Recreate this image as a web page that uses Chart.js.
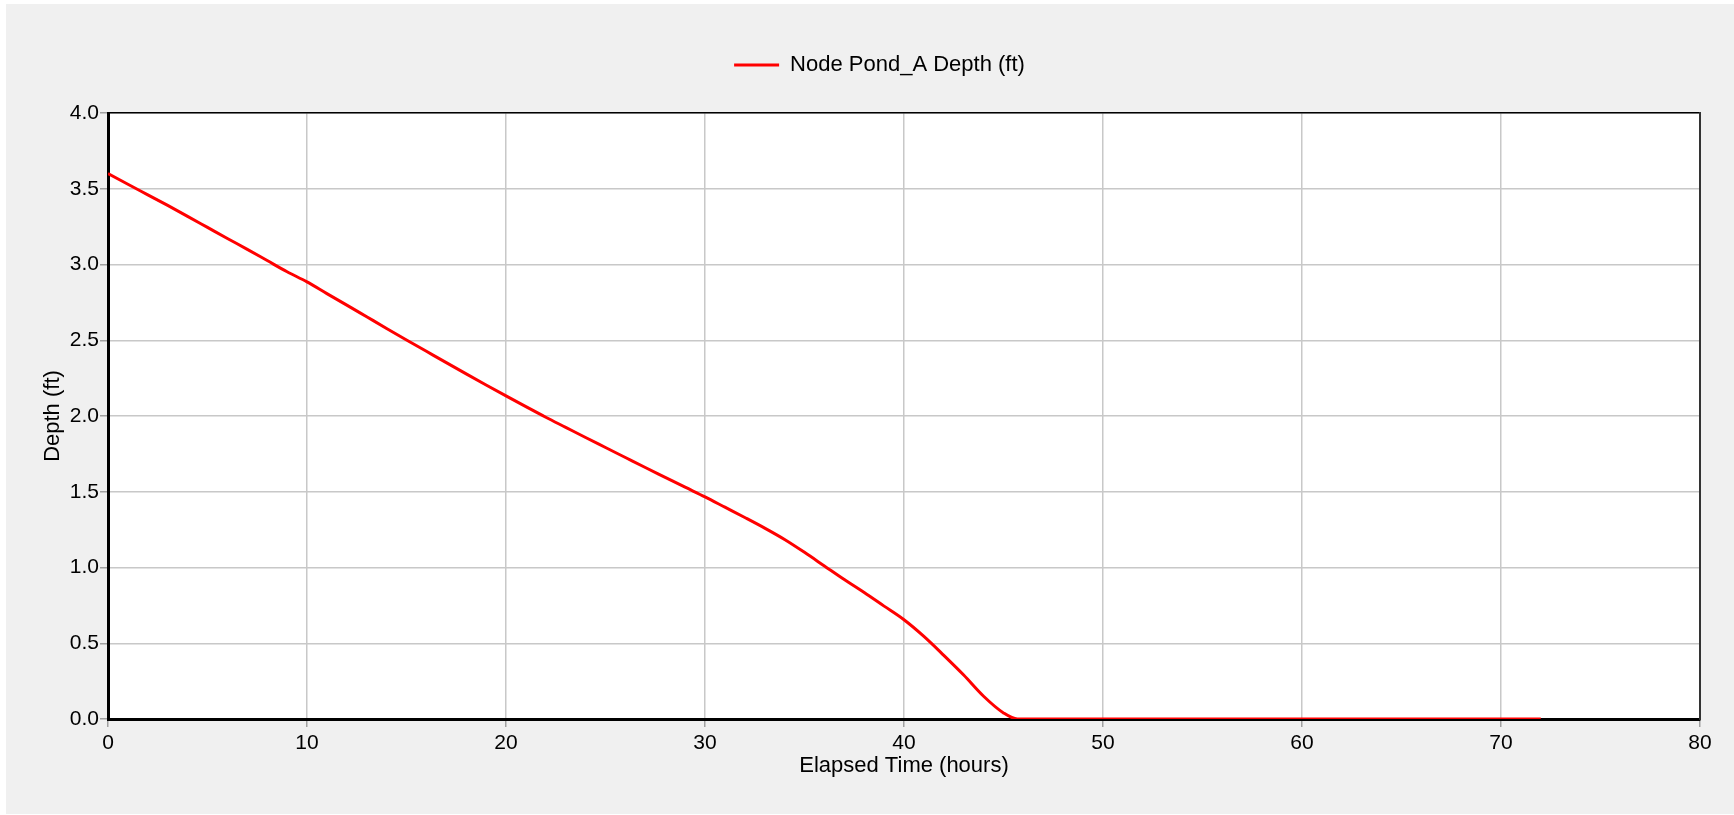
<!DOCTYPE html>
<html>
<head>
<meta charset="utf-8">
<title>Node Pond_A Depth</title>
<script src="https://cdn.jsdelivr.net/npm/chart.js@4.4.1/dist/chart.umd.min.js"></script>
<style>
  html, body { margin: 0; padding: 0; background: #ffffff; }
  #frame { position: absolute; left: 6px; top: 4px; width: 1728px; height: 810px; background: #f0f0f0; }
</style>
</head>
<body>
<div id="frame"><canvas id="depthChart" width="1728" height="810"></canvas></div>
<script>
// elapsed time (hours) and pond depth (ft)
const timeHours = [0, 1, 2, 3, 4, 5, 6, 7, 8, 9, 10, 11, 12, 13, 14, 15, 16, 17, 18, 19, 20,
  21, 22, 23, 24, 25, 26, 27, 28, 29, 30, 31, 32, 33, 34, 35, 36, 37, 38, 39, 40,
  41, 42, 43, 44, 45, 45.7, 72];
const depthFt = [3.600, 3.530, 3.460, 3.390, 3.318, 3.245, 3.172, 3.100, 3.026, 2.952, 2.885,
  2.808, 2.732, 2.655, 2.578, 2.502, 2.427, 2.352, 2.278, 2.205, 2.133,
  2.062, 1.992, 1.925, 1.858, 1.792, 1.726, 1.660, 1.595, 1.530, 1.466,
  1.398, 1.330, 1.260, 1.185, 1.100, 1.010, 0.920, 0.835, 0.745, 0.655,
  0.545, 0.420, 0.290, 0.150, 0.040, 0.000, 0.000];

const xTicks = [0, 80, 10];   // min, max, step
const yTicks = [0, 4, 0.5];

const FONT = 'Liberation Sans, Arial, sans-serif';

// white plot area on the grey panel
const plotBackground = {
  id: 'plotBackground',
  beforeDraw(chart) {
    const {ctx, chartArea: a} = chart;
    ctx.save();
    ctx.fillStyle = '#ffffff';
    ctx.fillRect(a.left, a.top, a.right - a.left, a.bottom - a.top);
    ctx.restore();
  }
};

const points = timeHours.map((t, i) => ({x: t, y: depthFt[i]}));

new Chart(document.getElementById('depthChart'), {
  type: 'line',
  data: {
    datasets: [{
      label: 'Node Pond_A Depth (ft)',
      data: points,
      borderColor: '#ff0000',
      backgroundColor: '#ff0000',
      borderWidth: 3,
      pointRadius: 0,
      cubicInterpolationMode: 'monotone',
      fill: false
    }]
  },
  options: {
    responsive: false,
    animation: false,
    layout: { padding: { left: 53, right: 34, top: 40, bottom: 35 } },
    plugins: {
      legend: {
        position: 'top',
        labels: {
          usePointStyle: true,
          pointStyle: 'line',
          pointStyleWidth: 45,
          padding: 10,
          color: '#000',
          font: { family: FONT, size: 22 }
        }
      },
      tooltip: { enabled: false }
    },
    scales: {
      x: {
        type: 'linear',
        position: 'bottom',
        min: xTicks[0], max: xTicks[1],
        ticks: { stepSize: xTicks[2], color: '#000', padding: 4, font: { family: FONT, size: 21 } },
        grid: { color: '#c8c8c8', lineWidth: 1.5, tickLength: 8, tickColor: '#a0a0a0' },
        border: { color: '#000', width: 3 },
        title: { display: true, text: 'Elapsed Time (hours)', color: '#000', padding: 0,
                 font: { family: FONT, size: 22 } },
        afterFit(s) { s.height = 60; }
      },
      y: {
        type: 'linear',
        position: 'left',
        min: yTicks[0], max: yTicks[1],
        ticks: { stepSize: yTicks[2], color: '#000', padding: 1, font: { family: FONT, size: 21 },
                 callback: v => v.toFixed(1) },
        grid: { color: '#c8c8c8', lineWidth: 1.5, tickLength: 8, tickColor: '#a0a0a0' },
        border: { color: '#000', width: 3 },
        title: { display: true, text: 'Depth (ft)', color: '#000', padding: { top: -19, bottom: 0 },
                 font: { family: FONT, size: 22 } },
        afterFit(s) { s.width = 49; }
      },
      xTop: {
        type: 'linear',
        position: 'top',
        min: xTicks[0], max: xTicks[1],
        ticks: { display: false },
        grid: { display: false },
        border: { color: '#000', width: 1.5 },
        afterFit(s) { s.height = 27; }
      },
      yRight: {
        type: 'linear',
        position: 'right',
        min: yTicks[0], max: yTicks[1],
        ticks: { display: false },
        grid: { display: false },
        border: { color: '#333', width: 2 },
        afterFit(s) { s.width = 0; }
      }
    }
  },
  plugins: [plotBackground]
});
</script>
</body>
</html>
